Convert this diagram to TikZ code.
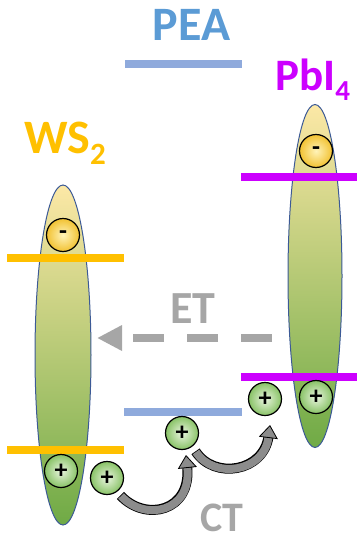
\documentclass[tikz,border=0pt]{standalone}
\usepackage{fontspec}
\setmainfont{Carlito}
\usetikzlibrary{shapes.geometric,arrows.meta}
\definecolor{peatxt}{HTML}{5B9BD5}
\definecolor{pealine}{HTML}{8FAADC}
\definecolor{wsorange}{HTML}{FFC000}
\definecolor{pbmag}{RGB}{204,0,255}
\definecolor{lgray}{HTML}{A6A6A6}
\definecolor{ellborder}{RGB}{60,90,150}
\definecolor{elltop}{HTML}{FCE8A6}
\definecolor{ellmid}{HTML}{EAD68C}
\definecolor{ellbot}{HTML}{6FAA45}
\definecolor{holein}{HTML}{EAF5E0}
\definecolor{holeout}{HTML}{88C266}
\definecolor{elecin}{HTML}{FFF3B8}
\definecolor{elecout}{HTML}{F2C232}
\definecolor{arrgray}{HTML}{8C8C8C}
\begin{document}
\begin{tikzpicture}[x=1pt,y=-1pt,
  bigtxt/.style={font=\bfseries\fontsize{48}{48}\selectfont, inner sep=0pt},
  lvl/.style={line width=8pt},
  band/.style={ellipse, draw=ellborder, line width=1pt, top color=elltop, middle color=ellmid, bottom color=ellbot, inner sep=0pt},
  hole/.style={circle, draw=black, line width=1.2pt, minimum size=33pt, inner sep=0pt, inner color=holein, outer color=holeout, font=\bfseries\fontsize{26}{26}\selectfont},
  elec/.style={circle, draw=black, line width=1.2pt, minimum size=33pt, inner sep=0pt, inner color=elecin, outer color=elecout, font=\bfseries\fontsize{26}{26}\selectfont},
  ctshaft/.style={line width=10pt, black},
  ctfill/.style={line width=8pt, arrgray, -{Triangle[width=19pt,length=13pt,fill=arrgray,color=black,line width=0.8pt]}}
]
\useasboundingbox (0,0) rectangle (358,541);

% texts
\node[bigtxt, text=peatxt, anchor=base] (pea) at (191.5,40) {PEA};
\node[bigtxt, text=wsorange, anchor=base west] (ws) at (24,153) {WS\raisebox{-11pt}{\fontsize{31}{31}\selectfont 2}};
\node[bigtxt, text=pbmag, anchor=base west, font=\bfseries\fontsize{45}{45}\selectfont] (pb) at (275,90) {PbI\raisebox{-10pt}{\fontsize{29}{29}\selectfont 4}};

% bands
\node[band, minimum width=56pt, minimum height=340pt] (wsband) at (63,355) {};
\node[band, minimum width=54pt, minimum height=343pt] (pbband) at (315,276) {};

% levels
\draw[lvl, pealine] (125,64) -- (242,64);
\draw[lvl, pealine] (124,412) -- (242,412);
\draw[lvl, wsorange] (7,258) -- (124,258);
\draw[lvl, wsorange] (7,450) -- (124,450);
\draw[lvl, pbmag] (241,176.5) -- (357,176.5);
\draw[lvl, pbmag] (241,377) -- (357,377);

% carriers
\node[elec] (e1) at (63,235) {-};
\node[elec] (e2) at (316,151) {-};
\node[hole] (h1) at (61,471) {+};
\node[hole] (h2) at (107,478) {+};
\node[hole] (h3) at (182,433) {+};
\node[hole] (h4) at (265,399) {+};
\node[hole] (h5) at (316,397) {+};

% ET
\coordinate (ets) at (272,338);
\coordinate (ete) at (97,338);
\draw[lgray, line width=8pt, dash pattern=on 31pt off 23pt, -{Triangle[width=24pt,length=25pt]}] (ets) -- (ete);
\node[bigtxt, text=lgray, anchor=base, font=\bfseries\fontsize{46}{46}\selectfont] (et) at (193,323) {ET};

% CT arrows
\coordinate (a1s) at (121,496);
\coordinate (a1e) at (186,455);
\coordinate (a2s) at (196,452);
\coordinate (a2e) at (270,425);
\draw[ctshaft, shorten >=11pt, shorten <=-0.8pt] (a1s) .. controls (145,522) and (192,512) .. (a1e);
\draw[ctfill] (a1s) .. controls (145,522) and (192,512) .. (a1e);
\draw[ctshaft, shorten >=11pt, shorten <=-0.8pt] (a2s) .. controls (214,480) and (264,472) .. (a2e);
\draw[ctfill] (a2s) .. controls (214,480) and (264,472) .. (a2e);
\node[bigtxt, text=lgray, anchor=base, font=\bfseries\fontsize{42}{42}\selectfont] (ct) at (222,531) {CT};
\end{tikzpicture}
\end{document}
